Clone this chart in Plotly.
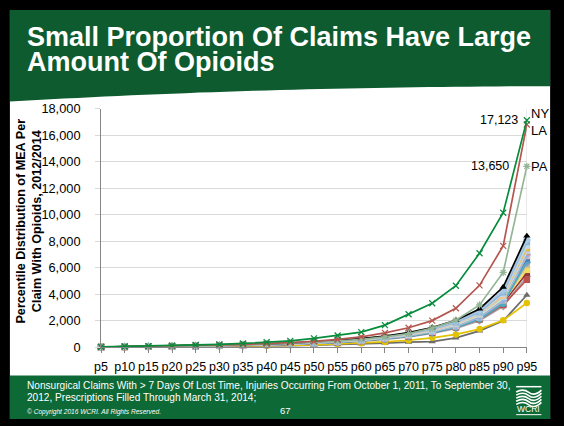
import plotly.graph_objects as go

W, H = 564, 426

percentiles = ["p5", "p10", "p15", "p20", "p25", "p30", "p35", "p40", "p45", "p50",
               "p55", "p60", "p65", "p70", "p75", "p80", "p85", "p90", "p95"]

# MEA per claim at each percentile, by state
ny = [40, 70, 100, 140, 180, 230, 300, 400, 490, 680, 900, 1150, 1680, 2500, 3330, 4650, 7100, 10150, 17123]
la = [30, 55, 80, 110, 140, 180, 230, 290, 360, 460, 600, 800, 1100, 1480, 2020, 2950, 4680, 7650, 16800]
pa = [25, 45, 70, 95, 125, 160, 200, 250, 310, 390, 480, 600, 790, 1050, 1450, 2050, 3200, 5650, 13650]

ky = [30, 55, 80, 105, 135, 170, 210, 260, 320, 410, 520, 660, 860, 1120, 1500, 2050, 2900, 4550, 8400]
ar = [28, 50, 75, 100, 128, 160, 200, 250, 305, 390, 495, 630, 820, 1070, 1420, 1950, 2750, 4300, 8100]
ca = [27, 49, 72, 97, 124, 155, 195, 240, 295, 375, 480, 610, 790, 1030, 1380, 1880, 2650, 4150, 7950]
ok_ = [30, 52, 76, 100, 127, 158, 196, 243, 297, 380, 486, 620, 810, 1060, 1400, 1900, 2600, 4000, 7500]
sc = [26, 47, 70, 93, 118, 148, 185, 228, 280, 357, 455, 580, 760, 990, 1330, 1800, 2550, 3950, 7150]
tx = [24, 44, 66, 88, 112, 140, 176, 218, 268, 340, 434, 555, 725, 945, 1270, 1720, 2420, 3750, 6700]
ct = [25, 45, 68, 90, 115, 144, 180, 222, 272, 348, 442, 565, 735, 960, 1290, 1750, 2480, 3850, 7300]
ga = [28, 50, 72, 95, 120, 150, 186, 230, 282, 360, 458, 582, 760, 990, 1320, 1780, 2500, 3700, 6100]
fl = [26, 46, 68, 90, 114, 142, 177, 220, 270, 344, 438, 556, 725, 940, 1250, 1690, 2350, 3500, 5850]
ia = [22, 40, 60, 80, 102, 128, 160, 198, 244, 310, 396, 505, 660, 860, 1150, 1560, 2200, 3350, 5600]
il = [21, 38, 57, 77, 98, 123, 154, 190, 234, 298, 380, 485, 635, 830, 1110, 1500, 2100, 3200, 5100]
in_ = [23, 42, 63, 84, 107, 134, 168, 208, 256, 326, 415, 530, 690, 900, 1200, 1630, 2300, 3600, 7000]
ks = [22, 41, 61, 82, 104, 130, 163, 202, 248, 316, 402, 513, 670, 870, 1165, 1580, 2230, 3450, 6400]
ma = [24, 43, 64, 85, 108, 135, 169, 209, 257, 328, 418, 533, 694, 903, 1205, 1630, 2280, 3400, 6250]
md = [23, 42, 62, 83, 106, 132, 165, 205, 252, 320, 408, 520, 680, 885, 1180, 1600, 2270, 3550, 6900]
mi = [20, 37, 55, 74, 94, 118, 148, 183, 225, 287, 366, 467, 610, 795, 1060, 1440, 2020, 3100, 5350]
mn = [22, 40, 59, 79, 100, 125, 157, 194, 238, 303, 386, 492, 642, 835, 1115, 1510, 2120, 3300, 6550]
mo = [26, 48, 71, 95, 121, 151, 189, 234, 287, 366, 466, 594, 775, 1010, 1350, 1830, 2580, 4050, 7700]
nc = [25, 46, 69, 92, 117, 146, 183, 226, 278, 355, 452, 576, 750, 978, 1310, 1780, 2520, 3900, 7600]
nj = [24, 44, 66, 88, 112, 140, 175, 217, 266, 340, 433, 552, 718, 935, 1250, 1700, 2400, 3700, 7200]
tn = [10, 19, 29, 40, 52, 66, 83, 103, 128, 162, 205, 260, 325, 395, 430, 720, 1250, 2000, 3950]
va = [14, 26, 38, 51, 65, 82, 103, 127, 156, 198, 252, 320, 415, 540, 720, 980, 1380, 2050, 3350]

# (name, values, colour, marker symbol)
cluster = [
    ("TN", tn, "#6b6b6b", "triangle-up"),
    ("VA", va, "#e3c200", "circle"),
    ("MI", mi, "#a6a6a6", "diamond"),
    ("IL", il, "#c0504d", "square"),
    ("IA", ia, "#953735", "square"),
    ("FL", fl, "#f2dc5d", "square"),
    ("GA", ga, "#ddd59a", "triangle-up"),
    ("MA", ma, "#c4bd97", "square"),
    ("KS", ks, "#7f9cbf", "diamond"),
    ("MN", mn, "#4bacc6", "circle"),
    ("TX", tx, "#4f81bd", "square"),
    ("MD", md, "#e6b9b8", "square"),
    ("IN", in_, "#8eb4e3", "diamond"),
    ("SC", sc, "#d99694", "square"),
    ("NJ", nj, "#d7e4bd", "triangle-up"),
    ("CT", ct, "#b9cde5", "square"),
    ("OK", ok_, "#e6b91e", "square"),
    ("NC", nc, "#fac090", "circle"),
    ("MO", mo, "#b7dee8", "square"),
    ("CA", ca, "#95b3d7", "square"),
    ("AR", ar, "#a5c8e4", "diamond"),
    ("KY", ky, "#000000", "triangle-up"),
]

x = list(range(len(percentiles)))

fig = go.Figure()

for name, vals, col, sym in cluster:
    fig.add_trace(go.Scatter(
        x=x, y=vals, name=name, mode="lines+markers", cliponaxis=False,
        line=dict(color=col, width=1.7),
        marker=dict(symbol=sym, size=6.5, color=col),
    ))

for name, vals, col, sym in [("PA", pa, "#93b595", "asterisk-open"),
                             ("LA", la, "#b4564f", "x-thin-open"),
                             ("NY", ny, "#078c3c", "x-thin-open")]:
    fig.add_trace(go.Scatter(
        x=x, y=vals, name=name, mode="lines+markers", cliponaxis=False,
        line=dict(color=col, width=1.7),
        marker=dict(symbol=sym, size=6, color=col, line=dict(color=col, width=1.2)),
    ))


def px(v):
    return v / W


def py(v):
    return 1 - v / H


def path(points):
    return "M " + " L ".join(f"{px(a):.4f},{py(b):.4f}" for a, b in points) + " Z"


shapes = []
# slide frame and background
shapes.append(dict(type="rect", xref="paper", yref="paper", x0=px(3), x1=px(560),
                   y0=py(426), y1=py(2), fillcolor="white", line=dict(width=0), layer="below"))
# header band with curved lower edge
curve = [(3, 2), (560, 2), (560, 81)]
for i in range(0, 41):
    xx = 560 - i * (557 / 40)
    t = (560 - xx) / 557
    yy = 81 + 2 * t + 14 * t ** 2.2
    curve.append((xx, yy))
shapes.append(dict(type="path", xref="paper", yref="paper", path=path(curve),
                   fillcolor="#0e5b2f", line=dict(width=0), layer="below"))
# footer band
shapes.append(dict(type="rect", xref="paper", yref="paper", x0=px(3), x1=px(560),
                   y0=py(426), y1=py(381), fillcolor="#0d6a37", line=dict(width=0), layer="below"))
# right border of plot area
shapes.append(dict(type="line", xref="x", yref="y", x0=18, x1=18, y0=0, y1=18000,
                   line=dict(color="#d9d9d9", width=1), layer="below"))

# logo
shapes.append(dict(type="line", xref="paper", yref="paper", x0=px(525), x1=px(551),
                   y0=py(392.5), y1=py(392.5), line=dict(color="white", width=1.5)))
for k in range(5):
    y0 = 397 + k * 3.2
    d = (f"M {px(525):.4f},{py(y0 + 1):.4f} Q {px(532):.4f},{py(y0 - 3):.4f} "
         f"{px(538):.4f},{py(y0 + 1.5):.4f} T {px(551):.4f},{py(y0 - 1):.4f}")
    shapes.append(dict(type="path", xref="paper", yref="paper", path=d,
                       line=dict(color="white", width=1.6)))
shapes.append(dict(type="line", xref="paper", yref="paper", x0=px(525), x1=px(551),
                   y0=py(421.5), y1=py(421.5), line=dict(color="white", width=1)))

font = "Liberation Sans, Arial, sans-serif"

annotations = [
    dict(x=px(19), y=py(30), xref="paper", yref="paper", xanchor="left", yanchor="middle",
         text="<b>Small Proportion Of Claims Have Large</b>", showarrow=False,
         font=dict(family=font, size=27, color="white")),
    dict(x=px(19), y=py(56), xref="paper", yref="paper", xanchor="left", yanchor="middle",
         text="<b>Amount Of Opioids</b>", showarrow=False,
         font=dict(family=font, size=27, color="white")),
    dict(x=px(23), y=py(221), xref="paper", yref="paper", xanchor="center", yanchor="middle",
         text="<b>Percentile Distribution of MEA Per<br>Claim With Opioids, 2012/2014</b>",
         textangle=-90, showarrow=False, font=dict(family=font, size=12.6, color="black")),
    dict(x=18, y=ny[-1], xref="x", yref="y", xanchor="right", yanchor="middle", xshift=-7,
         text=f"{ny[-1]:,}", showarrow=False, font=dict(family=font, size=12.5, color="black")),
    dict(x=18, y=pa[-1], xref="x", yref="y", xanchor="right", yanchor="middle", xshift=-16,
         text=f"{pa[-1]:,}", showarrow=False, font=dict(family=font, size=12.5, color="black")),
    dict(x=18, y=17600, xref="x", yref="y", xanchor="left", yanchor="middle", xshift=2,
         text="NY", showarrow=False, font=dict(family=font, size=13, color="black")),
    dict(x=18, y=16370, xref="x", yref="y", xanchor="left", yanchor="middle", xshift=2,
         text="LA", showarrow=False, font=dict(family=font, size=13, color="black")),
    dict(x=18, y=pa[-1], xref="x", yref="y", xanchor="left", yanchor="middle", xshift=2,
         text="PA", showarrow=False, font=dict(family=font, size=13, color="black")),
    dict(x=px(19), y=py(391), xref="paper", yref="paper", xanchor="left", yanchor="middle",
         text="Nonsurgical Claims With > 7 Days Of Lost Time, Injuries Occurring From October 1, 2011, To September 30,",
         showarrow=False, font=dict(family=font, size=10.1, color="white")),
    dict(x=px(19), y=py(404), xref="paper", yref="paper", xanchor="left", yanchor="middle",
         text="2012, Prescriptions Filled Through March 31, 2014;",
         showarrow=False, font=dict(family=font, size=10.1, color="white")),
    dict(x=px(19), y=py(419), xref="paper", yref="paper", xanchor="left", yanchor="middle",
         text="<i>© Copyright 2016 WCRI. All Rights Reserved.</i>",
         showarrow=False, font=dict(family=font, size=6.6, color="white")),
    dict(x=px(287), y=py(417), xref="paper", yref="paper", xanchor="center", yanchor="middle",
         text="67", showarrow=False, font=dict(family=font, size=9.5, color="white")),
    dict(x=px(538), y=py(416), xref="paper", yref="paper", xanchor="center", yanchor="middle",
         text="WCRI", showarrow=False, font=dict(family=font, size=8.5, color="white")),
]

fig.update_layout(
    width=W, height=H,
    margin=dict(l=0, r=0, t=0, b=0),
    paper_bgcolor="black",
    plot_bgcolor="rgba(0,0,0,0)",
    showlegend=False,
    shapes=shapes,
    annotations=annotations,
    xaxis=dict(
        domain=[px(97), px(536)], range=[0, 18],
        tickmode="array", tickvals=x, ticktext=percentiles,
        showgrid=False, zeroline=False,
        showline=True, linecolor="#868686", linewidth=1,
        ticks="outside", ticklen=5, tickcolor="#868686",
        tickfont=dict(family=font, size=12.5, color="black"),
        ticklabelstandoff=3,
    ),
    yaxis=dict(
        domain=[py(351.8), py(104.3)], range=[0, 18000],
        tickmode="array", tickvals=list(range(0, 18001, 2000)),
        tickformat=",d",
        showgrid=True, gridcolor="#d9d9d9", gridwidth=1, zeroline=False,
        showline=True, linecolor="#868686", linewidth=1,
        ticks="outside", ticklen=5, tickcolor="#d9d9d9",
        tickfont=dict(family=font, size=12.8, color="black"),
        ticklabelstandoff=12,
    ),
)

fig.write_html("out.html")
